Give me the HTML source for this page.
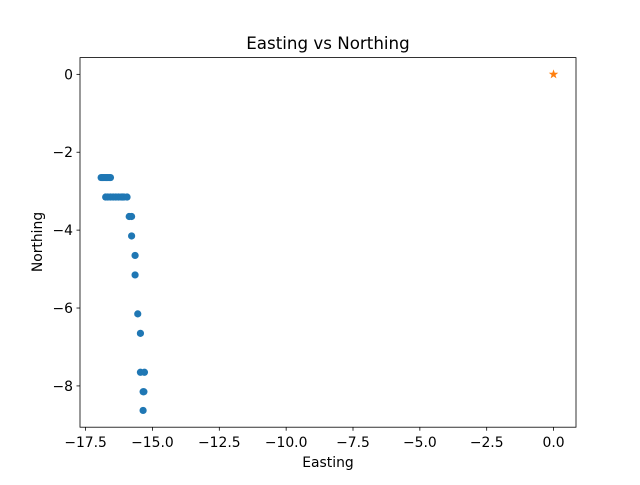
<!DOCTYPE html>
<html><head><meta charset="utf-8"><style>
body{margin:0;background:#fff;font-family:"Liberation Sans","DejaVu Sans",sans-serif}
text{font-family:"DejaVu Sans","Liberation Sans",sans-serif}
</style></head><body>
<svg id="chart" width="640" height="480" xmlns="http://www.w3.org/2000/svg">
<rect width="640" height="480" fill="#fff"/>
<text x="328" y="49" font-size="16.7" text-anchor="middle">Easting vs Northing</text>
<g id="marks"></g>
<rect x="80" y="57.6" width="496" height="369.6" fill="none" stroke="#000" stroke-width="0.8"/>
<g id="axes"></g>
<text x="328" y="467" font-size="13.9" text-anchor="middle">Easting</text>
<text x="42" y="242" font-size="13.9" text-anchor="middle" transform="rotate(-90 42 242)">Northing</text>
</svg>
<script>
const eastings=[-16.92,-16.87,-16.82,-16.77,-16.72,-16.67,-16.62,-16.57,-16.75,-16.67,-16.57,-16.47,-16.37,-16.27,-16.17,-16.12,-16.07,-15.95,-15.87,-15.78,-15.78,-15.65,-15.65,-15.55,-15.45,-15.45,-15.3,-15.35,-15.32,-15.35];
const northings=[-2.65,-2.65,-2.65,-2.65,-2.65,-2.65,-2.65,-2.65,-3.15,-3.15,-3.15,-3.15,-3.15,-3.15,-3.15,-3.15,-3.15,-3.15,-3.65,-3.65,-4.15,-4.65,-5.15,-6.15,-6.65,-7.65,-7.65,-8.15,-8.15,-8.63];
const originE=[0];
const originN=[0];
const xTicks=[-17.5,-15,-12.5,-10,-7.5,-5,-2.5,0];
const xTickLabels=["−17.5","−15.0","−12.5","−10.0","−7.5","−5.0","−2.5","0.0"];
const yTicks=[0,-2,-4,-6,-8];
const yTickLabels=["0","−2","−4","−6","−8"];
const xmin=-17.71,xmax=0.84,ymin=-9.06,ymax=0.43;
const L=80,R=576,T=57.6,B=427.2;
const sx=v=>L+(v-xmin)/(xmax-xmin)*(R-L);
const sy=v=>B-(v-ymin)/(ymax-ymin)*(B-T);
const NS="http://www.w3.org/2000/svg";
const marks=document.getElementById('marks'),axes=document.getElementById('axes');
eastings.forEach((e,i)=>{
 const c=document.createElementNS(NS,'circle');
 c.setAttribute('cx',sx(e));c.setAttribute('cy',sy(northings[i]));c.setAttribute('r',3.6);c.setAttribute('fill','#1f77b4');
 
 
 marks.appendChild(c);
});
originE.forEach((e,i)=>{
 const cx=sx(e),cy=sy(originN[i]);let p='';
 for(let k=0;k<10;k++){const r=k%2?2:5,a=-Math.PI/2+k*Math.PI/5;p+=(cx+r*Math.cos(a))+','+(cy+r*Math.sin(a))+' ';}
 const s=document.createElementNS(NS,'polygon');s.setAttribute('points',p);s.setAttribute('fill','#ff7f0e');
 
 
 marks.appendChild(s);
});
xTicks.forEach((v,i)=>{
 const x=sx(v);
 const l=document.createElementNS(NS,'line');l.setAttribute('x1',x);l.setAttribute('x2',x);l.setAttribute('y1',B);l.setAttribute('y2',B+3.5);l.setAttribute('stroke','#000');l.setAttribute('stroke-width','0.8');
 
 
 axes.appendChild(l);
 const t=document.createElementNS(NS,'text');t.setAttribute('x',x);t.setAttribute('y',B+20);t.setAttribute('font-size','13.9');t.setAttribute('text-anchor','middle');t.textContent=xTickLabels[i];
 
 
 axes.appendChild(t);
});
yTicks.forEach((v,i)=>{
 const y=sy(v);
 const l=document.createElementNS(NS,'line');l.setAttribute('x1',L-3.5);l.setAttribute('x2',L);l.setAttribute('y1',y);l.setAttribute('y2',y);l.setAttribute('stroke','#000');l.setAttribute('stroke-width','0.8');
 
 
 axes.appendChild(l);
 const t=document.createElementNS(NS,'text');t.setAttribute('x',L-7);t.setAttribute('y',y+5);t.setAttribute('font-size','13.9');t.setAttribute('text-anchor','end');t.textContent=yTickLabels[i];
 
 
 axes.appendChild(t);
});
</script>
</body></html>
